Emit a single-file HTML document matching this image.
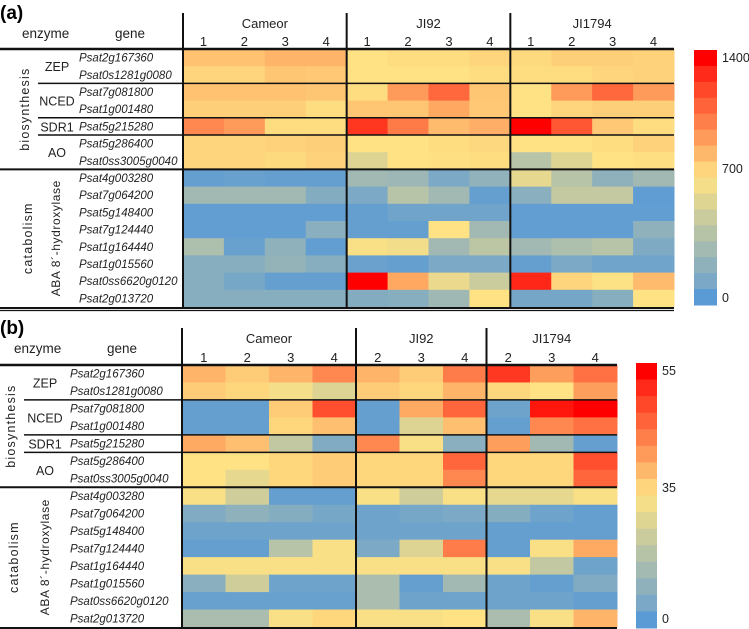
<!DOCTYPE html>
<html><head><meta charset="utf-8"><style>
html,body{margin:0;padding:0;background:#fff;}
svg{display:block;font-family:"Liberation Sans",sans-serif;}
</style></head><body>
<svg id="chart" width="749" height="629" viewBox="0 0 749 629" xmlns="http://www.w3.org/2000/svg"></svg>
<script>
const genes = ["Psat2g167360","Psat0s1281g0080","Psat7g081800","Psat1g001480","Psat5g215280","Psat5g286400","Psat0ss3005g0040","Psat4g003280","Psat7g064200","Psat5g148400","Psat7g124440","Psat1g164440","Psat1g015560","Psat0ss6620g0120","Psat2g013720"];
const enzymes = [["ZEP",0,2],["NCED",2,4],["SDR1",4,5],["AO",5,7]];
const groupsA = [["Cameor",["1","2","3","4"]],["JI92",["1","2","3","4"]],["JI1794",["1","2","3","4"]]];
const groupsB = [["Cameor",["1","2","3","4"]],["JI92",["2","3","4"]],["JI1794",["2","3","4"]]];
const valuesA = [
[800,800,840,840, 700,715,715,740, 725,760,760,750],
[740,740,790,780, 700,700,700,715, 715,715,740,750],
[800,800,800,790, 715,920,1080,790, 700,920,1080,920],
[760,760,760,715, 790,790,880,780, 700,740,760,760],
[980,920,715,715, 1230,1020,820,860, 1400,1130,780,715],
[740,740,750,760, 700,700,715,730, 700,700,715,750],
[740,740,725,750, 560,700,705,715, 400,560,700,705],
[40,60,40,40, 300,280,140,230, 600,400,220,300],
[300,300,300,170, 140,400,300,40, 200,450,450,20],
[30,30,30,30, 40,90,90,90, 30,30,30,30],
[30,30,30,200, 40,40,700,300, 30,30,30,220],
[350,60,220,30, 680,650,300,420, 300,350,400,150],
[190,190,240,190, 70,40,140,140, 40,140,90,90],
[190,120,40,40, 1400,880,620,480, 1280,740,690,820],
[190,190,190,190, 170,190,290,700, 110,110,190,700]];
const valuesB = [
[39,37,39,43, 39,37,44, 50,41,45],
[37,36,33,28, 37,36,39, 36,35,41],
[2,2,37,48, 2,40,46, 4,53,55],
[2,2,36,38, 2,28,38, 2,43,45],
[40,38,22,8, 43,34,10, 41,15,2],
[35,35,36,37, 36,36,46, 36,36,48],
[35,30,36,37, 36,36,43, 36,36,46],
[34,25,2,2, 34,25,34, 30,30,34],
[8,11,9,6, 4,6,7, 9,4,2],
[4,4,4,4, 4,4,4, 2,2,2],
[2,2,20,34, 7,28,44, 2,34,40],
[34,34,34,34, 34,34,34, 34,22,4],
[10,25,4,4, 17,2,15, 4,2,8],
[3,3,3,3, 17,4,4, 4,4,2],
[17,17,34,36, 34,34,35, 17,34,39]];
const ticksA = ["1400","700","0"];
const ticksB = ["55","35","0"];

const NS="http://www.w3.org/2000/svg";
const svg=document.getElementById('chart');
function mk(tag,attrs,parent){const e=document.createElementNS(NS,tag);for(const k in attrs)e.setAttribute(k,attrs[k]);(parent||svg).appendChild(e);return e;}
const BLUE=[91,155,213],YEL=[254,226,132],RED=[255,0,0];
function mix(a,b,t){return a.map((v,i)=>Math.round(v+(b[i]-v)*t));}
function color(v,mid,max){let c;if(v<=mid)c=mix(BLUE,YEL,Math.max(0,v/mid));else c=mix(YEL,RED,Math.min(1,(v-mid)/(max-mid)));return `rgb(${c[0]},${c[1]},${c[2]})`;}

function panel(cfg){
  const g=mk('g',{});
  
  
  const t=mk('text',{x:0,y:cfg.oy+19,'font-size':19,'font-weight':'bold',fill:'#000'},g);t.textContent=cfg.label;
  
  const ncol=cfg.values[0].length, nrow=genes.length;
  const cw=(cfg.x1-cfg.x0)/ncol, rh=(cfg.y1-cfg.y0)/nrow;
  const xs=i=>cfg.x0+i*cw, ys=j=>cfg.y0+j*rh;
  cfg.values.forEach((row,j)=>row.forEach((v,i)=>{
    const r=mk('rect',{x:xs(i),y:ys(j),width:cw+0.5,height:rh+0.5,fill:color(v,cfg.mid,cfg.max)},g);
    
    
  }));
  let t2=mk('text',{x:cfg.enzX,y:cfg.hy,'font-size':13.5,fill:'#222'},g);t2.textContent='enzyme';
  
  t2=mk('text',{x:cfg.geneX,y:cfg.hy,'font-size':13.5,fill:'#222'},g);t2.textContent='gene';
  
  let ci=0;
  cfg.groups.forEach(([name,cols])=>{
    const gx=(xs(ci)+xs(ci+cols.length))/2;
    const gt=mk('text',{x:gx,y:cfg.gy,'font-size':13,fill:'#222','text-anchor':'middle'},g);gt.textContent=name;
    
    cols.forEach((c,k)=>{
      const nt=mk('text',{x:xs(ci+k)+cw/2,y:cfg.ny,'font-size':13,fill:'#222','text-anchor':'middle'},g);nt.textContent=c;
      
    });
    const l=mk('line',{x1:xs(ci),x2:xs(ci),y1:cfg.vy,y2:cfg.y1,stroke:'#111','stroke-width':2},g);
    
    ci+=cols.length;
  });
  genes.forEach((gn,j)=>{
    const gt=mk('text',{x:cfg.gx,y:ys(j)+rh/2+4,'font-size':11.5,'font-style':'italic',fill:'#222'},g);gt.textContent=gn;
    
  });
  enzymes.forEach(([en,a,b])=>{
    const et=mk('text',{x:cfg.ex,y:(ys(a)+ys(b))/2+5,'font-size':12.5,fill:'#222','text-anchor':'middle'},g);et.textContent=en;
    
  });
  const hl=(y,x0,sw)=>{const l=mk('line',{x1:x0,x2:cfg.x1,y1:y,y2:y,stroke:'#111','stroke-width':sw},g);};
  hl(cfg.y0,0,2.5);
  [2,4,5].forEach(k=>hl(ys(k),cfg.sepX,1.5));
  hl(ys(7),0,2);
  hl(cfg.y1+1,0,2);hl(cfg.y1+3.5,0,1.2);
  const rot=(txt,x,y,name,fs,ls)=>{const r=mk('text',{x:0,y:0,'font-size':fs,fill:'#222','text-anchor':'middle','letter-spacing':ls,transform:`translate(${x},${y}) rotate(-90)`},g);r.textContent=txt;};
  rot('biosynthesis',cfg.bioX,(cfg.y0+ys(7))/2,'biosynthesis-label',12.5,1.2);
  rot('catabolism',cfg.catX,(ys(7)+cfg.y1)/2,'catabolism-label',12.5,1.2);
  rot('ABA 8´-hydroxylase',cfg.abaX,(ys(7)+cfg.y1)/2,'hydroxylase-label',12,0.6);
  const nb=16, bh=(cfg.cb.y1-cfg.cb.y0)/nb;
  for(let k=0;k<nb;k++){
    const f=1-(k+0.5)/nb;
    let v;
    if(f>=0.5) v=cfg.mid+(f-0.5)/0.5*(cfg.max-cfg.mid); else v=f/0.5*cfg.mid;
    if(k===0)v=cfg.max; if(k===nb-1)v=0;
    const r=mk('rect',{x:cfg.cb.x,y:cfg.cb.y0+k*bh,width:cfg.cb.w,height:bh+0.5,fill:color(v,cfg.mid,cfg.max)},g);
    
  }
  cfg.ticks.forEach((tk,i)=>{
    const tt=mk('text',{x:cfg.cb.x+cfg.cb.w+5,y:cfg.tickY[i],'font-size':12.5,fill:'#222'},g);tt.textContent=tk;
    
  });
}
panel({name:'panel-a',label:'(a)',oy:0,values:valuesA,groups:groupsA,mid:700,max:1400,
  x0:183,x1:674,y0:49,y1:307,vy:13,hy:38,gy:28,ny:46,enzX:22,geneX:115,gx:79,ex:57,sepX:38,
  bioX:29,catX:32,abaX:60,cb:{x:694,w:23,y0:50,y1:305},ticks:ticksA,tickY:[62,173,302]});
panel({name:'panel-b',label:'(b)',oy:315,values:valuesB,groups:groupsB,mid:35,max:55,
  x0:182,x1:617,y0:365,y1:627,vy:328,hy:353,gy:343,ny:362,enzX:14,geneX:107,gx:70,ex:45,sepX:24,
  bioX:15,catX:18,abaX:49,cb:{x:636,w:21,y0:363,y1:628},ticks:ticksB,tickY:[375,492,623]});
</script>
</body></html>
